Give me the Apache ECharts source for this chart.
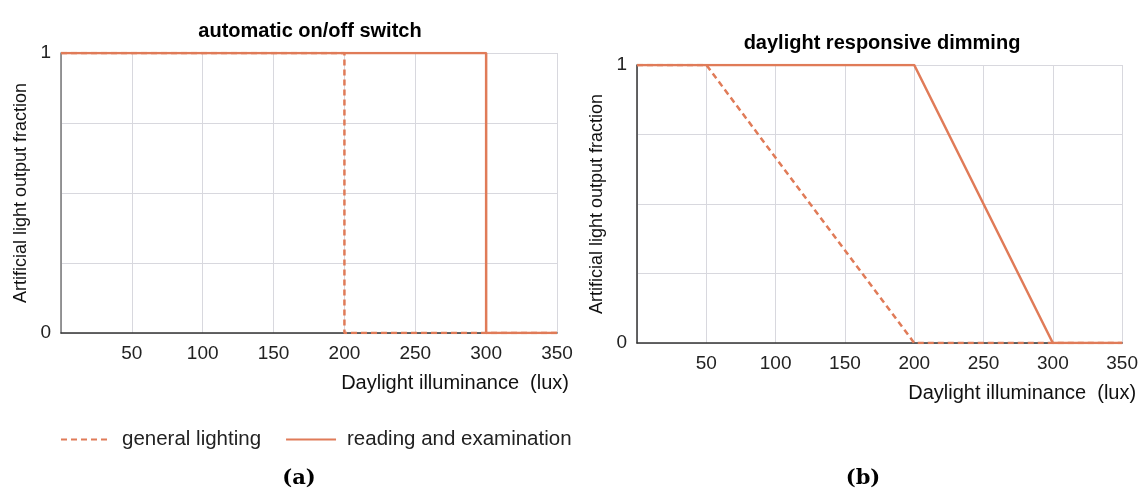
<!DOCTYPE html>
<html>
<head>
<meta charset="utf-8">
<script src="https://cdn.jsdelivr.net/npm/echarts@6/dist/echarts.min.js"></script>
<style>html,body{margin:0;padding:0;background:#fff}#c{width:1141px;height:490px}</style>
</head>
<body>
<div id="c"></div>
<script>
// ---- data ----
const xTicks = [0, 50, 100, 150, 200, 250, 300, 350];
const yTicks = [0, 0.25, 0.5, 0.75, 1];
const seriesNames = ['general lighting', 'reading and examination'];
const panelTitles = ['automatic on/off switch', 'daylight responsive dimming'];
const panelCaptions = ['(a)', '(b)'];
// panel (a): automatic on/off switch  [lux, fraction]
const switchGeneral = [[0, 1], [200, 1], [200, 0], [350, 0]];
const switchReading = [[0, 1], [300, 1], [300, 0], [350, 0]];
// panel (b): daylight responsive dimming
const dimGeneral = [[0, 1], [50, 1], [200, 0], [350, 0]];
const dimReading = [[0, 1], [200, 1], [300, 0], [350, 0]];

const COLOR = '#E07B58';
const FONT = 'Liberation Sans, Arial, sans-serif';
const chart = echarts.init(document.getElementById('c'), null, {renderer: 'canvas'});

function xAxis(gi) {
  return {
    type: 'value', gridIndex: gi, min: xTicks[0], max: xTicks[xTicks.length - 1], interval: 50,
    name: 'Daylight illuminance  (lux)', nameLocation: 'end', nameGap: gi === 0 ? 12 : 14,
    nameTextStyle: {fontFamily: FONT, fontSize: 20, color: '#111', align: 'right', verticalAlign: 'top', padding: [40, 0, 0, 0]},
    axisLine: {show: true, lineStyle: {color: '#333', width: 1.5}},
    axisTick: {show: false},
    axisLabel: {showMinLabel: false, fontFamily: FONT, fontSize: 19, color: '#222', margin: 11},
    splitLine: {show: true, lineStyle: {color: '#d8d8de', width: 1}}
  };
}
function yAxis(gi) {
  return {
    type: 'value', gridIndex: gi, min: yTicks[0], max: yTicks[yTicks.length - 1], interval: 0.25,
    name: 'Artificial light output fraction', nameLocation: 'middle', nameGap: 31,
    nameTextStyle: {fontFamily: FONT, fontSize: 18, color: '#111'},
    axisLine: {show: true, lineStyle: {color: gi === 0 ? '#777' : '#333', width: 1.5}},
    axisTick: {show: false},
    axisLabel: {fontFamily: FONT, fontSize: 19, color: '#222', margin: 10,
      formatter: v => (v === 0 || v === 1) ? String(v) : ''},
    splitLine: {show: true, lineStyle: {color: '#d8d8de', width: 1}}
  };
}
function line(name, data, gi, dashed) {
  return {
    name, type: 'line', xAxisIndex: gi, yAxisIndex: gi, data, symbol: 'none', silent: true,
    lineStyle: {color: COLOR, width: 2.5, type: dashed ? [6, 4] : 'solid'},
    itemStyle: {color: COLOR}, animation: false
  };
}

chart.setOption({
  animation: false,
  backgroundColor: '#fff',
  title: [
    {text: panelTitles[0], left: 305, top: 16, textAlign: 'center',
      textStyle: {fontFamily: FONT, fontSize: 20, fontWeight: 'bold', color: '#000'}},
    {text: panelTitles[1], left: 877, top: 28, textAlign: 'center',
      textStyle: {fontFamily: FONT, fontSize: 20, fontWeight: 'bold', color: '#000'}},
    {text: panelCaptions[0], left: 294, top: 463, textAlign: 'center',
      textStyle: {fontFamily: 'DejaVu Serif, Liberation Serif, serif', fontSize: 21, fontWeight: 'bold', color: '#000'}},
    {text: panelCaptions[1], left: 858, top: 463, textAlign: 'center',
      textStyle: {fontFamily: 'DejaVu Serif, Liberation Serif, serif', fontSize: 21, fontWeight: 'bold', color: '#000'}}
  ],
  legend: {
    left: 55, top: 424, itemWidth: 50, itemHeight: 14, itemGap: 24,
    data: seriesNames,
    itemStyle: {opacity: 0},
    textStyle: {fontFamily: FONT, fontSize: 20.5, color: '#222', padding: [0, 0, 0, 6]},
    selectedMode: false
  },
  grid: [
    {left: 61, top: 53, right: 1141 - 557, bottom: 490 - 333},
    {left: 637, top: 65, right: 1141 - 1129, bottom: 490 - 343}
  ],
  xAxis: [xAxis(0), xAxis(1)],
  yAxis: [yAxis(0), yAxis(1)],
  series: [
    line(seriesNames[0], switchGeneral, 0, true),
    line(seriesNames[1], switchReading, 0, false),
    line(seriesNames[0], dimGeneral, 1, true),
    line(seriesNames[1], dimReading, 1, false)
  ]
});
</script>
</body>
</html>
